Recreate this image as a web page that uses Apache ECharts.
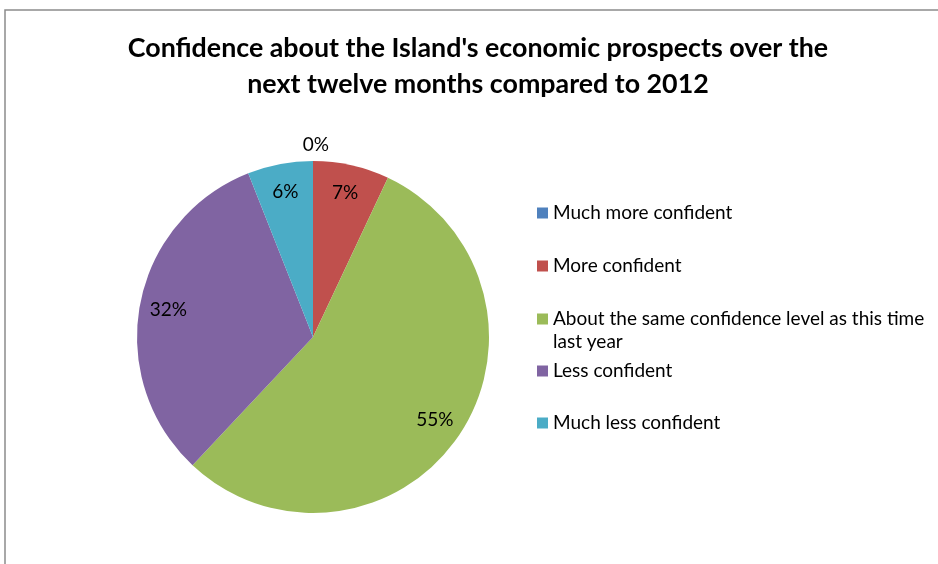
<!DOCTYPE html>
<html>
<head>
<meta charset="utf-8">
<style>
  html, body { margin: 0; padding: 0; background: #fff; }
  #chart { width: 938px; height: 564px; }
</style>
<script src="https://cdn.jsdelivr.net/npm/echarts@6/dist/echarts.min.js"></script>
</head>
<body>
<div id="chart"></div>
<script>
// Survey responses (percent of respondents)
const categories = [
  'Much more confident',
  'More confident',
  'About the same confidence level as this time\nlast year',
  'Less confident',
  'Much less confident'
];
const values = [0, 7, 55, 32, 6];
const colors = ['#4F81BD', '#C0504D', '#9BBB59', '#8064A2', '#4BACC6'];
const titleText = "Confidence about the Island's economic prospects over the\nnext twelve months compared to 2012";

const FONT = 'Lato, "Liberation Sans", sans-serif';
const center = [313, 337];
const R = 176;

const chart = echarts.init(document.getElementById('chart'), null, { renderer: 'canvas' });

const pieData = categories.map((name, i) => ({
  name,
  value: values[i],
  itemStyle: { color: colors[i] }
}));

// Label ring: a transparent ring over the outer part of the pie, so that
// inside labels sit near the rim of each slice.
const labelData = categories.map((name, i) => {
  const item = {
    name,
    value: values[i],
    itemStyle: { color: 'rgba(0,0,0,0)' }
  };
  if (values[i] === 0) {
    item.label = { position: 'outside', distanceToLabelLine: -16 };
    item.labelLine = { show: false, length: 16, length2: 0 };
  }
  return item;
});

// One legend block per entry so each row can be placed like the original layout.
const legendCenters = [212, 265, 318, 370, 422];
const legends = categories.map((name, i) => {
  const multi = name.indexOf('\n') >= 0;
  return {
    left: 532,
    top: legendCenters[i] - 15.5,
    orient: 'vertical',
    selectedMode: false,
    data: [name],
    itemWidth: 11,
    itemHeight: multi ? 34 : 11,
    icon: multi ? 'path://M0,0H11V11H0Z M0,34H0.001V34.001H0Z' : 'rect',
    textStyle: {
      fontFamily: FONT,
      fontSize: 19,
      color: '#000',
      lineHeight: 23
    }
  };
});

chart.setOption({
  animation: false,
  backgroundColor: '#fff',
  color: colors,
  title: {
    text: titleText,
    left: 473,
    textAlign: 'center',
    top: 25,
    textStyle: {
      fontFamily: FONT,
      fontWeight: 'bold',
      fontSize: 26.8,
      lineHeight: 36,
      color: '#000'
    }
  },
  legend: legends,
  graphic: [{
    type: 'rect',
    shape: { x: 5, y: 10, width: 960, height: 600 },
    style: { fill: 'none', stroke: '#8c8c8c', lineWidth: 1.5 },
    silent: true,
    z: -1
  }],
  series: [
    {
      type: 'pie',
      center: center,
      radius: [0, R],
      startAngle: 90,
      clockwise: true,
      silent: true,
      label: { show: false },
      labelLine: { show: false },
      itemStyle: { borderWidth: 0 },
      data: pieData
    },
    {
      type: 'pie',
      center: center,
      radius: [R * 0.64, R],
      startAngle: 90,
      clockwise: true,
      silent: true,
      legendHoverLink: false,
      label: {
        show: true,
        position: 'inside',
        formatter: p => p.value + '%',
        fontFamily: FONT,
        fontSize: 19,
        color: '#000'
      },
      labelLine: { show: false },
      itemStyle: { borderWidth: 0 },
      emphasis: { disabled: true },
      data: labelData
    }
  ]
});
</script>
</body>
</html>
